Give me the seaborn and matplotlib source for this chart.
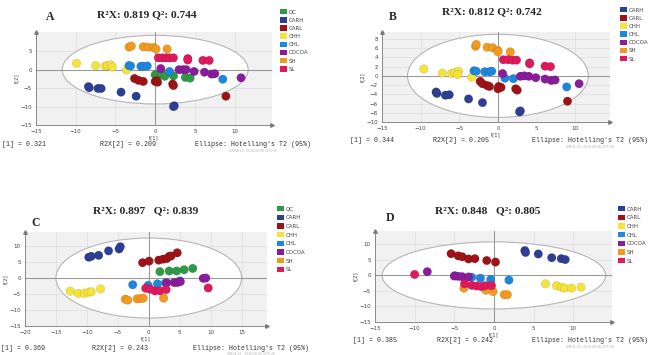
import numpy as np
import pandas as pd
import seaborn as sns
import matplotlib.pyplot as plt
from matplotlib.patches import Ellipse, Patch

# group colours (SIMCA default palette)
COLORS = {
    "QC": "#2f9a46", "CARH": "#2d3f95", "CARL": "#9e1218", "CHH": "#f5e33c",
    "CHL": "#1f86dd", "COCOA": "#8a1c9c", "SH": "#f29a1f", "SL": "#de1a5c",
}

# score values t[1], t[2]
A_T1 = {
    "QC": [0.0, 0.3, 0.8, 1.2, 2.3, 3.8, 4.4],
    "CARH": [-8.4, -8.3, -7.2, -6.8, -4.3, -2.4, 2.4, 2.3],
    "CARL": [-2.6, -2.1, -1.5, 0.0, 0.2, 0.3, 2.2, 2.3, 8.9],
    "CHH": [-9.9, -7.5, -6.3, -6.0, -5.6, -5.4, -3.6],
    "CHL": [-3.3, -3.1, -1.8, -1.5, -1.0, 1.8, 8.5],
    "COCOA": [0.7, 3.0, 3.5, 3.9, 4.9, 6.2, 7.1, 7.5, 10.8],
    "SH": [-3.3, -3.0, -1.5, -0.9, -0.2, 0.1, 1.5],
    "SL": [0.4, 0.9, 1.4, 1.8, 2.3, 4.1, 4.1, 6.0, 6.8],
}
A_T2 = {
    "QC": [-1.4, -1.4, -1.2, -1.8, -1.7, -2.1, -2.3],
    "CARH": [-4.6, -4.9, -5.1, -5.1, -6.1, -7.2, -9.8, -10.0],
    "CARL": [-2.4, -2.9, -3.2, -3.2, -3.0, -3.4, -3.9, -4.3, -7.2],
    "CHH": [1.7, 1.1, 1.0, 1.1, 1.3, 0.7, -0.1],
    "CHL": [1.1, 1.0, 0.9, 0.9, 1.0, -0.5, -2.6],
    "COCOA": [0.3, 0.0, 0.0, 0.0, -0.5, -0.7, -1.2, -1.1, -2.2],
    "SH": [6.1, 6.4, 6.2, 6.1, 6.0, 5.6, 5.6],
    "SL": [3.2, 3.2, 3.2, 3.2, 3.2, 3.0, 2.6, 2.5, 2.5],
}

B_T1 = {
    "CARH": [-8.0, -7.9, -6.8, -6.3, -3.8, -2.0, 2.8, 2.9],
    "CARL": [-2.3, -2.0, -1.4, -1.1, 0.1, 0.4, 0.0, 2.3, 2.5, 9.0],
    "CHH": [-9.6, -7.2, -6.0, -5.6, -5.1, -5.2, -3.4],
    "CHL": [-3.1, -2.8, -1.7, -1.1, -0.8, 0.9, 2.0, 8.9],
    "COCOA": [0.6, 2.9, 3.4, 4.0, 4.9, 6.1, 6.9, 7.4, 10.5],
    "SH": [-2.9, -2.8, -1.4, -0.7, 0.0, 0.0, 1.6],
    "SL": [0.7, 1.3, 1.9, 2.4, 4.1, 4.1, 6.1, 6.8],
}
B_T2 = {
    "CARH": [-3.5, -3.8, -4.2, -4.1, -5.0, -5.8, -7.8, -7.6],
    "CARL": [-1.2, -1.7, -2.1, -2.3, -2.3, -2.5, -2.8, -2.8, -3.1, -5.5],
    "CHH": [1.5, 0.6, 0.55, 0.7, 1.0, 0.3, -0.3],
    "CHL": [1.1, 1.0, 0.9, 0.9, 1.0, -0.5, -0.6, -2.4],
    "COCOA": [0.5, -0.1, 0.0, -0.1, -0.4, -0.7, -1.0, -0.9, -1.7],
    "SH": [6.4, 6.8, 6.2, 6.1, 5.5, 5.2, 5.2],
    "SL": [3.5, 3.5, 3.4, 3.4, 2.8, 2.6, 2.1, 2.0],
}

C_T1 = {
    "QC": [1.8, 3.3, 4.5, 5.7, 7.1],
    "CARH": [-9.7, -9.3, -8.1, -6.5, -4.8, -4.6],
    "CARL": [-1.0, 0.05, 1.6, 2.3, 2.9, 3.3, 3.6, 4.6],
    "CHH": [-12.7, -11.4, -10.4, -9.7, -9.3, -7.8],
    "CHL": [-2.6, -0.1, 1.4, 2.7, 5.0],
    "COCOA": [2.9, 4.1, 4.6, 5.1, 8.8, 9.2],
    "SH": [-3.8, -3.4, -1.9, -1.3, -0.9, 2.4],
    "SL": [-0.5, 0.2, 1.0, 1.8, 2.8, 9.6],
}
C_T2 = {
    "QC": [2.0, 2.2, 2.2, 2.6, 3.0],
    "CARH": [6.5, 6.8, 7.1, 8.5, 9.1, 9.8],
    "CARL": [4.8, 5.3, 5.6, 5.9, 6.1, 6.8, 6.9, 7.9],
    "CHH": [-4.1, -4.8, -4.8, -4.4, -4.3, -3.4],
    "CHL": [-2.1, -2.3, -1.8, -1.5, -0.9],
    "COCOA": [-1.5, -1.4, -1.4, -1.1, -0.1, 0.0],
    "SH": [-6.6, -6.9, -6.5, -6.4, -6.3, -6.3],
    "SL": [-3.2, -3.5, -4.0, -4.0, -3.6, -3.1],
}

D_T1 = {
    "CARH": [3.9, 4.0, 5.6, 7.3, 8.5, 9.0],
    "CARL": [-5.4, -4.5, -4.0, -3.2, -2.4, -0.9, 0.2],
    "CHH": [6.5, 7.9, 8.5, 8.9, 9.8, 11.0],
    "CHL": [-4.9, -2.8, -1.7, -0.4, 1.9],
    "COCOA": [-8.4, -5.0, -4.5, -4.0, -3.2],
    "SH": [-3.8, -1.0, -0.1, 1.3, 1.7],
    "SL": [-10.0, -3.7, -2.8, -2.2, -1.6, -1.1, -0.3],
}
D_T2 = {
    "CARH": [8.0, 7.4, 6.9, 5.7, 5.4, 5.1],
    "CARL": [7.0, 6.3, 6.0, 5.3, 5.4, 4.8, 4.3],
    "CHH": [-2.7, -3.3, -3.8, -4.1, -4.1, -3.8],
    "CHL": [-0.1, -0.6, -0.9, -1.3, -1.5],
    "COCOA": [1.2, -0.2, -0.3, -0.4, -0.5],
    "SH": [-4.1, -4.8, -5.2, -6.2, -6.2],
    "SL": [0.3, -2.7, -3.2, -3.4, -3.6, -3.3, -3.3],
}

TITLES = ["R²X: 0.819 Q²: 0.744", "R²X: 0.812 Q²: 0.742",
          "R²X: 0.897   Q²: 0.839", "R²X: 0.848   Q²: 0.805"]
R2X1 = ["0.321", "0.344", "0.369", "0.385"]
R2X2 = ["0.209", "0.205", "0.243", "0.242"]


def to_frame(t1, t2):
    rows = []
    for g in t1:
        for a, b in zip(t1[g], t2[g]):
            rows.append((g, a, b))
    return pd.DataFrame(rows, columns=["group", "t1", "t2"])


W, H = 650, 355
panels = [
    dict(letter="A", t1=A_T1, t2=A_T2, rect=[36, 32, 272, 125], xlim=(-15, 14.7), ylim=(-15, 10.2),
         xt=np.arange(-15, 11, 5), yt=np.arange(-15, 6, 5), ell=(11.7, 9.3),
         title=(147, 15), let=(50, 17), leg=(280, 9, 0.47), foot=145, fx=(2, 100, 195)),
    dict(letter="B", t1=B_T1, t2=B_T2, rect=[382, 32, 610, 122], xlim=(-15, 14.5), ylim=(-10, 9.5),
         xt=np.arange(-15, 11, 5), yt=np.arange(-10, 9, 2), ell=(11.7, 9.0),
         title=(492, 12), let=(393, 17), leg=(620, 7, 0.47), foot=141, fx=(350, 433, 532)),
    dict(letter="C", t1=C_T1, t2=C_T2, rect=[25, 232, 267, 326], xlim=(-20, 19.1), ylim=(-15, 14.4),
         xt=np.arange(-20, 16, 5), yt=np.arange(-15, 11, 5), ell=(15.0, 12.5),
         title=(146, 211), let=(36, 223), leg=(277, 206, 0.56), foot=348, fx=(1, 92, 193)),
    dict(letter="D", t1=D_T1, t2=D_T2, rect=[375, 231, 612, 322], xlim=(-15, 14.9), ylim=(-15, 14.3),
         xt=np.arange(-15, 11, 5), yt=np.arange(-15, 11, 5), ell=(14.1, 10.8),
         title=(488, 211), let=(390, 218), leg=(618, 206, 0.56), foot=341, fx=(353, 437, 532)),
]

sns.set_style("white")
fig = plt.figure(figsize=(6.5, 3.55), dpi=100, facecolor="white")

for i, p in enumerate(panels):
    x0, y0, x1, y1 = p["rect"]
    ax = fig.add_axes([x0 / W, 1 - y1 / H, (x1 - x0) / W, (y1 - y0) / H])
    ax.set_facecolor("#f1f1f1")
    ax.set_xlim(*p["xlim"])
    ax.set_ylim(*p["ylim"])
    ax.set_xticks(p["xt"])
    ax.set_yticks(p["yt"])
    ax.grid(True, color="#dedede", lw=0.5, zorder=0)
    ax.set_axisbelow(True)
    ax.add_patch(Ellipse((0, 0), 2 * p["ell"][0], 2 * p["ell"][1], facecolor="white",
                         edgecolor="#b5b5b5", lw=0.8, zorder=1))
    ax.axhline(0, color="#9a9a9a", lw=0.8, zorder=2)
    ax.axvline(0, color="#9a9a9a", lw=0.8, zorder=2)

    df = to_frame(p["t1"], p["t2"])
    groups = list(p["t1"].keys())
    sns.scatterplot(data=df, x="t1", y="t2", hue="group", hue_order=groups, palette=COLORS,
                    s=38, edgecolor="#00000030", linewidth=0.3, legend=False, ax=ax, zorder=3)

    for s in ["top", "right"]:
        ax.spines[s].set_visible(False)
    for s in ["left", "bottom"]:
        ax.spines[s].set_color("#7a7a7a")
        ax.spines[s].set_linewidth(0.6)
    ax.plot(1, 0, ">", color="#7a7a7a", ms=2.5, transform=ax.transAxes, clip_on=False)
    ax.plot(0, 1, "^", color="#7a7a7a", ms=2.5, transform=ax.transAxes, clip_on=False)
    ax.tick_params(labelsize=4, length=1.5, width=0.4, color="#7a7a7a", labelcolor="#444444", pad=1.5)
    ax.set_xlabel("t[1]", fontsize=3.8, color="#444444", labelpad=1)
    ax.set_ylabel("t[2]", fontsize=3.8, color="#444444", labelpad=1)

    # titles
    fig.text(p["title"][0] / W, 1 - p["title"][1] / H, TITLES[i], ha="center", va="center",
             family="Liberation Serif", weight="bold", fontsize=8.2)
    fig.text(p["let"][0] / W, 1 - p["let"][1] / H, p["letter"], ha="center", va="center",
             family="Liberation Serif", weight="bold", fontsize=8.5)

    # legend
    lx, ly, sp = p["leg"]
    handles = [Patch(facecolor=COLORS[g], edgecolor="none", label=g) for g in groups]
    fig.legend(handles=handles, loc="upper left", bbox_to_anchor=(lx / W, 1 - ly / H),
               frameon=False, fontsize=4, handlelength=1.25, handleheight=1.1,
               handletextpad=0.35, labelspacing=sp, borderpad=0, borderaxespad=0,
               labelcolor="#444444")

    # footer texts
    fy = 1 - p["foot"] / H
    mono = dict(family="Liberation Mono", fontsize=4.8, color="#333333", va="center", ha="left")
    fig.text(p["fx"][0] / W, fy, "[1] = " + R2X1[i], **mono)
    fig.text(p["fx"][1] / W, fy, "R2X[2] = " + R2X2[i], **mono)
    fig.text(p["fx"][2] / W, fy, "Ellipse: Hotelling's T2 (95%)", **mono)
    fig.text((p["fx"][2] + 34) / W, fy - 6 / H, "SIMCA 14 - 2018-08-08 (UTC+8)",
             ha="left", va="center", family="DejaVu Sans", fontsize=2.2, color="#b0b0b0")

fig.savefig("out.png", dpi=100)
plt.close(fig)
